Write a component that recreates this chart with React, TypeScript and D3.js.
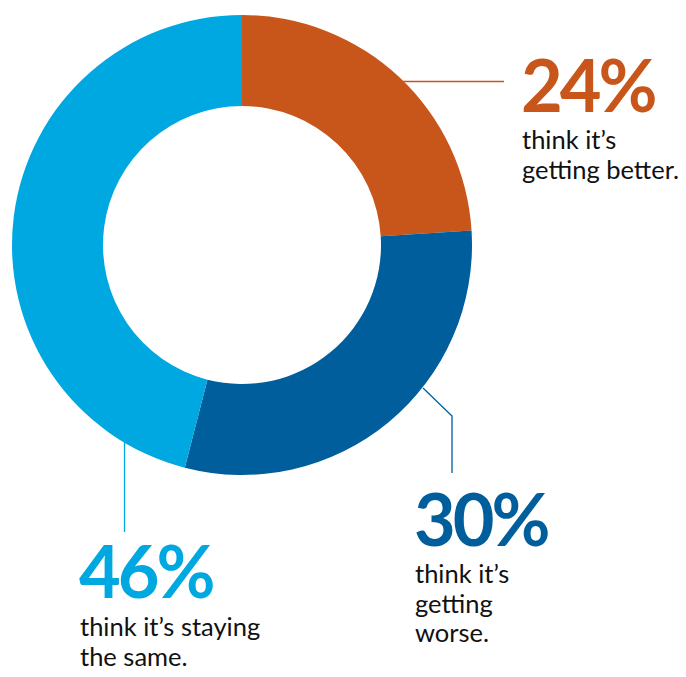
import React from "react";
import * as d3 from "d3";

const categories = ["better", "worse", "same"];
const values = [24, 30, 46];
const colors = ["#C8561A", "#005E9C", "#00A8E1"];
const percentLabels = ["24%", "30%", "46%"];
const captions = [
  ["think it’s", "getting better."],
  ["think it’s", "getting", "worse."],
  ["think it’s staying", "the same."],
];

const W = 686;
const H = 677;
const cx = 242;
const cy = 245;
const R = 230;
const r = 139;

export default function App() {
  const pie = d3.pie<number>().sort(null).value((d) => d)(values);
  const arc = d3.arc<d3.PieArcDatum<number>>().innerRadius(r).outerRadius(R);

  const labelPos = [
    { x: 521, y: 112, lineStart: 149 },
    { x: 414, y: 546, lineStart: 583 },
    { x: 79, y: 598, lineStart: 636 },
  ];
  const leaders = [
    [
      [403, 81.5],
      [504, 81.5],
    ],
    [
      [423, 388],
      [452, 416],
      [452, 473],
    ],
    [
      [124.5, 442],
      [124.5, 532],
    ],
  ];
  const line = d3.line();

  return (
    <svg
      width={W}
      height={H}
      style={{ position: "absolute", left: 0, top: 0, background: "#fff" }}
    >
      <g transform={`translate(${cx},${cy})`}>
        {pie.map((p, i) => (
          <path key={categories[i]} d={arc(p) || ""} fill={colors[i]} />
        ))}
      </g>
      {leaders.map((pts, i) => (
        <path
          key={"l" + i}
          d={line(pts as [number, number][]) || ""}
          fill="none"
          stroke={colors[i]}
          strokeWidth={1.3}
        />
      ))}
      {labelPos.map((lp, i) => (
        <g key={"t" + i} fontFamily="Lato, 'Open Sans', sans-serif">
          <text
            x={lp.x}
            y={lp.y}
            fill={colors[i]}
            fontSize={72}
            fontWeight={700}
            letterSpacing={-3}
          >
            {percentLabels[i]}
          </text>
          {captions[i].map((c, j) => (
            <text
              key={j}
              x={lp.x + 1}
              y={lp.lineStart + j * 29.5}
              fill="#111"
              fontSize={25.5}
            >
              {c}
            </text>
          ))}
        </g>
      ))}
    </svg>
  );
}
